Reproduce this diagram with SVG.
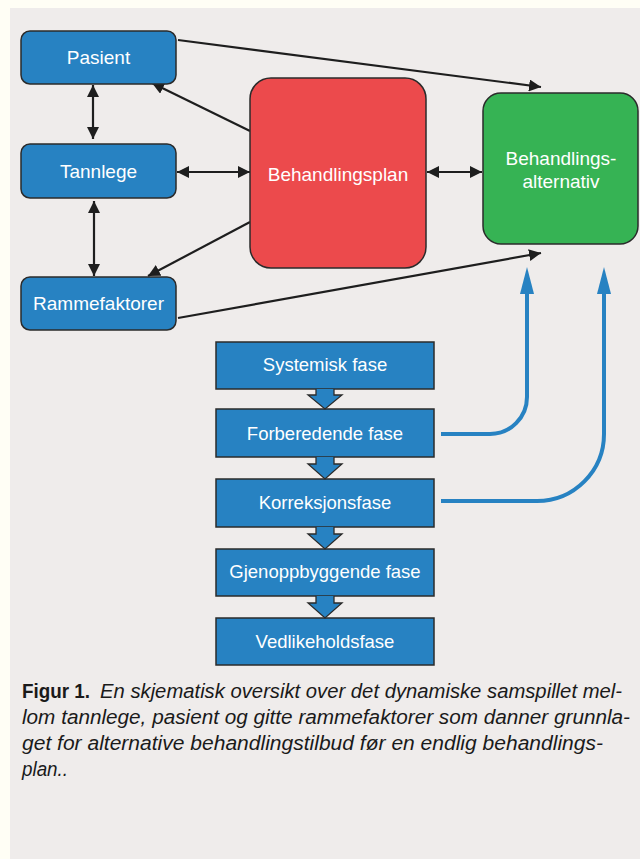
<svg xmlns="http://www.w3.org/2000/svg" width="640" height="859" viewBox="0 0 640 859">
<defs>
<style>
.node{fill:#2782c2;stroke:#2b2b2b;stroke-width:1.5}
.lbl{font-family:"Liberation Sans",Arial,sans-serif;font-size:19px;fill:#ffffff;text-anchor:middle}
.ph{font-family:"Liberation Sans",Arial,sans-serif;font-size:18.5px;fill:#ffffff;text-anchor:middle}
.con{stroke:#1e1e1e;stroke-width:2.2;fill:none}
.blue{stroke:#2782c2;stroke-width:4;fill:none}
.down{fill:#2782c2;stroke:#2b2b2b;stroke-width:1.3}
.cap{font-family:"Liberation Sans",Arial,sans-serif;font-size:19.5px;fill:#1a1a1a}
</style>
<marker id="ah" viewBox="0 0 10 10" refX="10" refY="5" markerWidth="12" markerHeight="12" orient="auto-start-reverse" markerUnits="userSpaceOnUse">
<path d="M0,0 L10,5 L0,10 z" fill="#1e1e1e"/>
</marker>
</defs>
<rect x="0" y="0" width="640" height="859" fill="#fffef5"/>
<rect x="10" y="8" width="630" height="851" fill="#efeceb"/>

<g id="connectors">
<line class="con" x1="178" y1="40" x2="541" y2="87" marker-end="url(#ah)"/>
<line class="con" x1="250" y1="131" x2="152" y2="83" marker-end="url(#ah)"/>
<line class="con" x1="93" y1="85" x2="93" y2="139" marker-start="url(#ah)" marker-end="url(#ah)"/>
<line class="con" x1="94" y1="201" x2="94" y2="276" marker-start="url(#ah)" marker-end="url(#ah)"/>
<line class="con" x1="177" y1="172" x2="250" y2="172" marker-start="url(#ah)" marker-end="url(#ah)"/>
<line class="con" x1="427" y1="172" x2="482" y2="172" marker-start="url(#ah)" marker-end="url(#ah)"/>
<line class="con" x1="250" y1="222" x2="148" y2="276" marker-end="url(#ah)"/>
<line class="con" x1="178" y1="318" x2="541" y2="253" marker-end="url(#ah)"/>
<path class="blue" d="M441,434 H490 A37,37 0 0 0 527,397 V292"/>
<path class="blue" d="M441,501 H537 A67,67 0 0 0 604,434 V292"/>
<path d="M520,294 L527,267 L534,294 z" fill="#2782c2"/>
<path d="M597,294 L604,267 L611,294 z" fill="#2782c2"/>
</g>

<g id="pasient">
<rect class="node" x="21" y="31" width="155" height="53" rx="9"/>
<text class="lbl" x="98.5" y="64">Pasient</text>
</g>
<g id="tannlege">
<rect class="node" x="21" y="144" width="155" height="54" rx="9"/>
<text class="lbl" x="98.5" y="178">Tannlege</text>
</g>
<g id="rammefaktorer">
<rect class="node" x="21" y="277" width="155" height="53" rx="9"/>
<text class="lbl" x="98.5" y="310">Rammefaktorer</text>
</g>
<g id="behandlingsplan">
<rect x="250" y="78" width="176" height="190" rx="21" fill="#ec4a4c" stroke="#2b2b2b" stroke-width="1.5"/>
<text class="lbl" x="338" y="181">Behandlingsplan</text>
</g>
<g id="behandlingsalternativ">
<rect x="483" y="93" width="155" height="151" rx="18" fill="#36b354" stroke="#2b2b2b" stroke-width="1.5"/>
<text class="lbl" x="561" y="165">Behandlings-</text>
<text class="lbl" x="561" y="188">alternativ</text>
</g>

<g id="systemisk">
<rect class="node" x="216" y="342" width="218" height="47"/>
<text class="ph" x="325" y="371">Systemisk fase</text>
</g>
<g id="forberedende">
<rect class="node" x="216" y="409" width="218" height="48"/>
<text class="ph" x="325" y="440">Forberedende fase</text>
</g>
<g id="korreksjon">
<rect class="node" x="216" y="479" width="218" height="48"/>
<text class="ph" x="325" y="509">Korreksjonsfase</text>
</g>
<g id="gjenoppbyggende">
<rect class="node" x="216" y="549" width="218" height="47"/>
<text class="ph" x="325" y="578">Gjenoppbyggende fase</text>
</g>
<g id="vedlikehold">
<rect class="node" x="216" y="618" width="218" height="47"/>
<text class="ph" x="325" y="648">Vedlikeholdsfase</text>
</g>

<g id="phase-arrows">
<path class="down" d="M316,389 V395 H308 L325,409 L342,395 H334 V389"/>
<path class="down" d="M316,457 V464 H308 L325,479 L342,464 H334 V457"/>
<path class="down" d="M316,527 V534 H308 L325,549 L342,534 H334 V527"/>
<path class="down" d="M316,596 V603 H308 L325,618 L342,603 H334 V596"/>
</g>

<g id="caption">
<text class="cap" x="22" y="698" font-weight="bold" textLength="68" lengthAdjust="spacingAndGlyphs">Figur 1.</text>
<text class="cap" x="100" y="698" font-style="italic" textLength="522" lengthAdjust="spacingAndGlyphs">En skjematisk oversikt over det dynamiske samspillet mel-</text>
<text class="cap" x="22" y="724" font-style="italic" textLength="608" lengthAdjust="spacingAndGlyphs">lom tannlege, pasient og gitte rammefaktorer som danner grunnla-</text>
<text class="cap" x="22" y="750" font-style="italic" textLength="581" lengthAdjust="spacingAndGlyphs">get for alternative behandlingstilbud før en endlig behandlings-</text>
<text class="cap" x="22" y="776" font-style="italic" textLength="46" lengthAdjust="spacingAndGlyphs">plan..</text>
</g>
</svg>
